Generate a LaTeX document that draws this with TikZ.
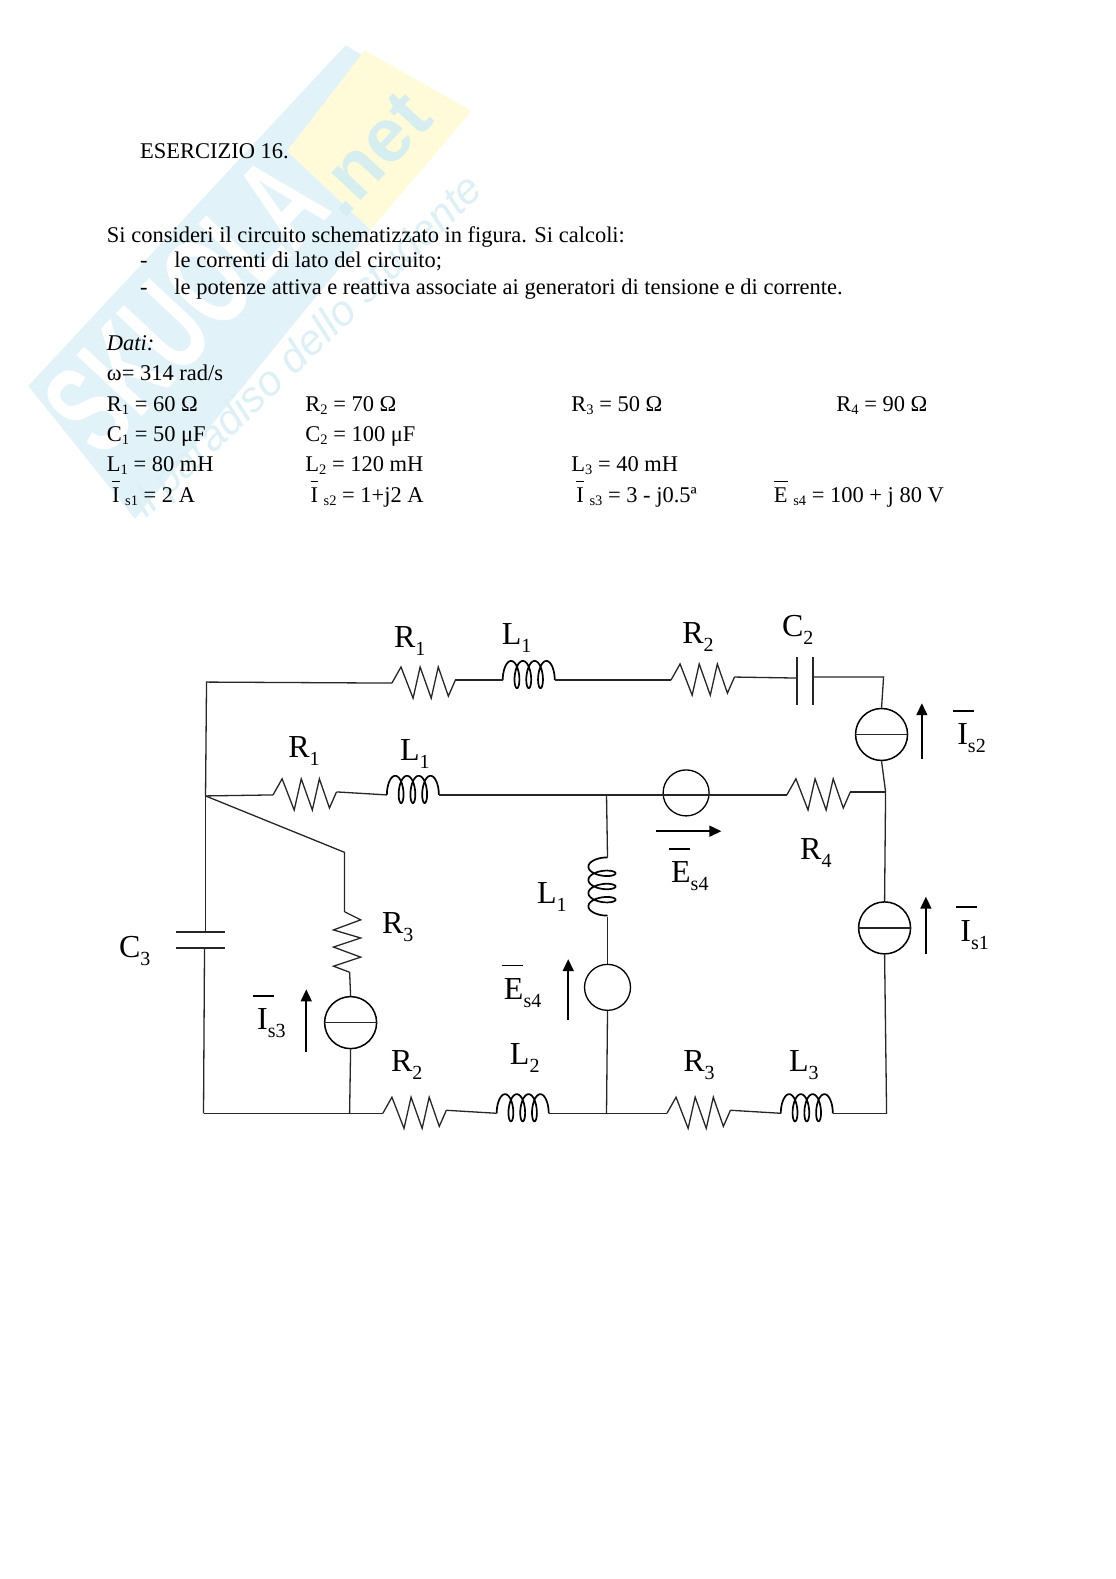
\documentclass[tikz,border=0pt]{standalone}
\usepackage{fontspec}
\setmainfont{Liberation Serif}
\newfontfamily\wmfont{Liberation Sans}
\usetikzlibrary{arrows.meta,calc}
\definecolor{wmblue}{HTML}{E1F3F8}
\definecolor{wmyellow}{HTML}{FFFBD8}
\definecolor{wmtext}{HTML}{DCF0F6}
\definecolor{wmnet}{HTML}{D6EEF0}
\newcommand\ovb[2]{\setbox0=\hbox{#2}\rlap{\raise#1\hbox{\vrule width\wd0 height 1.3pt}}\box0\relax}
\newcommand\dbar[2]{\rlap{\kern-#1\raise33pt\hbox{\vrule width 21pt height 1.7pt}}#2}
\newcommand\dsub[1]{\raisebox{-8pt}{\fontsize{20}{20}\selectfont #1}}
\newcommand\tsub[1]{\raisebox{-3pt}{\fontsize{14.5}{14.5}\selectfont #1}}
\tikzset{
  wire/.style={line width=1.3pt,black!85,line join=miter},
  coil/.style={line width=1.7pt,black,smooth},
  txt/.style={anchor=base west,inner sep=0pt,font=\fontsize{22.47}{26}\selectfont},
  lbl/.style={anchor=base west,inner sep=0pt,font=\fontsize{32}{36}\selectfont},
  srcc/.style={circle,draw,line width=1.5pt,minimum size=52pt,inner sep=0pt},
  srcv/.style={circle,draw,line width=1.3pt,minimum size=46pt,inner sep=0pt},
  dirarrow/.style={line width=1.6pt,-{Triangle[width=11pt,length=12pt]}},
  resh/.pic={\draw[wire] (0,0) -- (9,-16) -- (21,15) -- (28,-16) -- (39,15) -- (46,-16) -- (56,13) -- (63,-3);
    \coordinate (-w) at (0,0); \coordinate (-e) at (63,-3);},
  indh/.pic={\draw[coil] plot[domain=-114:1194,samples=110] ({\x*0.03246+5*sin(\x)+8.27},{-5.5-13.5*cos(\x)});
    \coordinate (-w) at (0,0); \coordinate (-e) at (52,0);},
  indv/.pic={\draw[coil] plot[domain=-114:1194,samples=110] ({-5.5-13.5*cos(\x)},{1.12*(\x*0.03246+5*sin(\x)+8.27)});
    \coordinate (-n) at (0,0); \coordinate (-s) at (0,59);},
  resv/.pic={\draw[wire] (0,0) -- (16,8) -- (-11,18) -- (16,26) -- (-11,35) -- (16,45) -- (-11,54) -- (5,60);
    \coordinate (-n) at (0,0); \coordinate (-s) at (5,60);},
}
\begin{document}
\begin{tikzpicture}[x=1.0075pt,y=-1.0075pt]
\useasboundingbox (0,0) rectangle (1107.69,1567.25);
% watermark
\fill[wmblue] (28,383) -- (343,45) -- (362,56) -- (285,150) -- (368,228) -- (134,515) -- cycle;
\fill[wmyellow] (362,50) -- (468,110) -- (368,228) -- (285,150) -- cycle;
\node[rotate=47,text=white,font=\wmfont\bfseries\fontsize{130}{130}\selectfont,inner sep=0pt,xscale=0.62] (wm1) at (184,303) {SKUOLA};
\node[rotate=47,text=wmnet,font=\wmfont\bfseries\fontsize{76}{76}\selectfont,inner sep=0pt] (wm2) at (369,153) {.net};
\node[rotate=44,text=wmtext,font=\wmfont\itshape\fontsize{42.5}{44}\selectfont,inner sep=0pt] (wm3) at (306,345) {il paradiso dello studente};
% text
\node[txt] (t1) at (139,157) {ESERCIZIO 16.};
\node[txt] (t2) at (106,241) {Si consideri il circuito schematizzato in figura. Si calcoli:};
\node[txt] (t3a) at (139,266) {-};
\node[txt] (t3) at (173,266) {le correnti di lato del circuito;};
\node[txt] (t4a) at (139,292) {-};
\node[txt] (t4) at (173,292) {le potenze attiva e reattiva associate ai generatori di tensione e di corrente.};
\node[txt] (t5) at (106,348) {\itshape Dati:};
\node[txt] (t6) at (106,378) {ω= 314 rad/s};
\node[txt] (a1) at (106,408) {R\tsub{1} = 60 Ω};
\node[txt] (a2) at (303,408) {R\tsub{2} = 70 Ω};
\node[txt] (a3) at (567,408) {R\tsub{3} = 50 Ω};
\node[txt] (a4) at (830,408) {R\tsub{4} = 90 Ω};
\node[txt] (b1) at (106,438) {C\tsub{1} = 50 μF};
\node[txt] (b2) at (303,438) {C\tsub{2} = 100 μF};
\node[txt] (c1) at (106,468) {L\tsub{1} = 80 mH};
\node[txt] (c2) at (303,468) {L\tsub{2} = 120 mH};
\node[txt] (c3) at (567,468) {L\tsub{3} = 40 mH};
\node[txt] (d1) at (111,498.5) {\ovb{20pt}{I} \tsub{s1} = 2 A};
\node[txt] (d2) at (308,498.5) {\ovb{20pt}{I} \tsub{s2} = 1+j2 A};
\node[txt] (d3) at (572,498.5) {\ovb{20pt}{I} \tsub{s3} = 3 - j0.5ª};
\node[txt] (d4) at (768,498.5) {\ovb{20pt}{E} \tsub{s4} = 100 + j 80 V};
% named junctions
\coordinate (tl) at (205,677);
\coordinate (ml) at (204,790);
\coordinate (bl) at (202,1105);
\coordinate (tr) at (877,672);
\coordinate (mr) at (879,786);
\coordinate (br) at (880,1105);
\coordinate (mc) at (602,789);
\coordinate (bc) at (602,1105);
\coordinate (b3) at (347,1105);
\coordinate (diag) at (342,846);
% components
\pic (r1t) at (389,678) {resh};
\pic (l1t) at (499,675) {indh};
\pic (r2t) at (666,675) {resh};
\pic (r1m) at (271,789) {resh};
\pic (l1m) at (384,789) {indh};
\pic (r4) at (781,789) {resh};
\pic (r2b) at (380,1105) {resh};
\pic (l2b) at (493,1105) {indh};
\pic (r3b) at (662,1105) {resh};
\pic (l3b) at (775,1105) {indh};
\pic (l1v) at (603,851) {indv};
\pic (r3v) at (342,905) {resv};
\node[srcc] (is2) at (875,729) {};
\node[srcc] (is1) at (878,921) {};
\node[srcc] (is3) at (348,1015) {};
\node[srcv] (ev) at (603,980) {};
\node[srcv] (eh) at (681,787) {};
% capacitors
\coordinate (c2a) at (791,673); \coordinate (c2b) at (807,672);
\coordinate (c3a) at (204,925); \coordinate (c3b) at (203,941);
\draw[wire] (791,652) -- (791,700);
\draw[wire] (807,652) -- (807,700);
\draw[wire] (175,925) -- (223,925);
\draw[wire] (175,941) -- (223,941);
% wires
\draw[wire] (ml) -- (tl) -- (r1t-w);
\draw[wire] (r1t-e) -- (l1t-w);
\draw[wire] (l1t-e) -- (r2t-w);
\draw[wire] (r2t-e) -- (c2a);
\draw[wire] (c2b) -- (tr) -- (is2.north);
\draw[wire] (is2.south) -- (mr);
\draw[wire] (ml) -- (r1m-w);
\draw[wire] (r1m-e) -- (l1m-w);
\draw[wire] (l1m-e) -- ++(9,0) -- (mc);
\draw[wire] (mc) -- (r4-w);
\draw[wire] (r4-e) -- (mr);
\draw[wire] (mc) -- (l1v-n);
\draw[wire] (l1v-s) -- (ev.north);
\draw[wire] (ev.south) -- (bc);
\draw[wire] (mr) -- (is1.north);
\draw[wire] (is1.south) -- (br);
\draw[wire] (br) -- ($(l3b-e)+(9,0)$) -- (l3b-e);
\draw[wire] (l3b-w) -- (r3b-e);
\draw[wire] (r3b-w) -- (bc);
\draw[wire] (bc) -- ($(l2b-e)+(9,0)$) -- (l2b-e);
\draw[wire] (l2b-w) -- (r2b-e);
\draw[wire] (r2b-w) -- (b3) -- (bl);
\draw[wire] (bl) -- (c3b);
\draw[wire] (c3a) -- (ml);
\draw[wire] (ml) -- (diag) -- (r3v-n);
\draw[wire] (r3v-s) -- (is3.north);
\draw[wire] (is3.south) -- (b3);
\draw[wire] (is2.west) -- (is2.east);
\draw[wire] (is1.west) -- (is1.east);
\draw[wire] (is3.west) -- (is3.east);
% arrows
\coordinate (a2s) at (915,753); \coordinate (a2e) at (915,698);
\coordinate (a1s) at (919,947); \coordinate (a1e) at (919,890);
\coordinate (a3s) at (304,1044); \coordinate (a3e) at (304,982);
\coordinate (a4s) at (564,1012); \coordinate (a4e) at (564,952);
\coordinate (a5s) at (651,825); \coordinate (a5e) at (716,825);
\draw[dirarrow] (a2s) -- (a2e);
\draw[dirarrow] (a1s) -- (a1e);
\draw[dirarrow] (a3s) -- (a3e);
\draw[dirarrow] (a4s) -- (a4e);
\draw[dirarrow] (a5s) -- (a5e);
% labels
\node[lbl] (lr1t) at (391,643) {R\dsub{1}};
\node[lbl] (ll1t) at (498,640) {L\dsub{1}};
\node[lbl] (lr2t) at (677,639) {R\dsub{2}};
\node[lbl] (lc2) at (776,632) {C\dsub{2}};
\node[lbl] (lis2) at (950,739) {\dbar{4pt}{I}\dsub{s2}};
\node[lbl] (lr1m) at (286,752) {R\dsub{1}};
\node[lbl] (ll1m) at (397,755) {L\dsub{1}};
\node[lbl] (leh) at (666,876) {\dbar{2pt}{E}\dsub{s4}};
\node[lbl] (lr4) at (794,853) {R\dsub{4}};
\node[lbl] (ll1v) at (533,897) {L\dsub{1}};
\node[lbl] (lc3) at (118,950) {C\dsub{3}};
\node[lbl] (lr3v) at (379,927) {R\dsub{3}};
\node[lbl] (lis3) at (255,1022) {\dbar{4pt}{I}\dsub{s3}};
\node[lbl] (lev) at (500,992) {\dbar{2pt}{E}\dsub{s4}};
\node[lbl] (lis1) at (953,934) {\dbar{4pt}{I}\dsub{s1}};
\node[lbl] (lr2b) at (388,1064) {R\dsub{2}};
\node[lbl] (ll2b) at (506,1057) {L\dsub{2}};
\node[lbl] (lr3b) at (678,1064) {R\dsub{3}};
\node[lbl] (ll3b) at (783,1064) {L\dsub{3}};
\end{tikzpicture}
\end{document}
